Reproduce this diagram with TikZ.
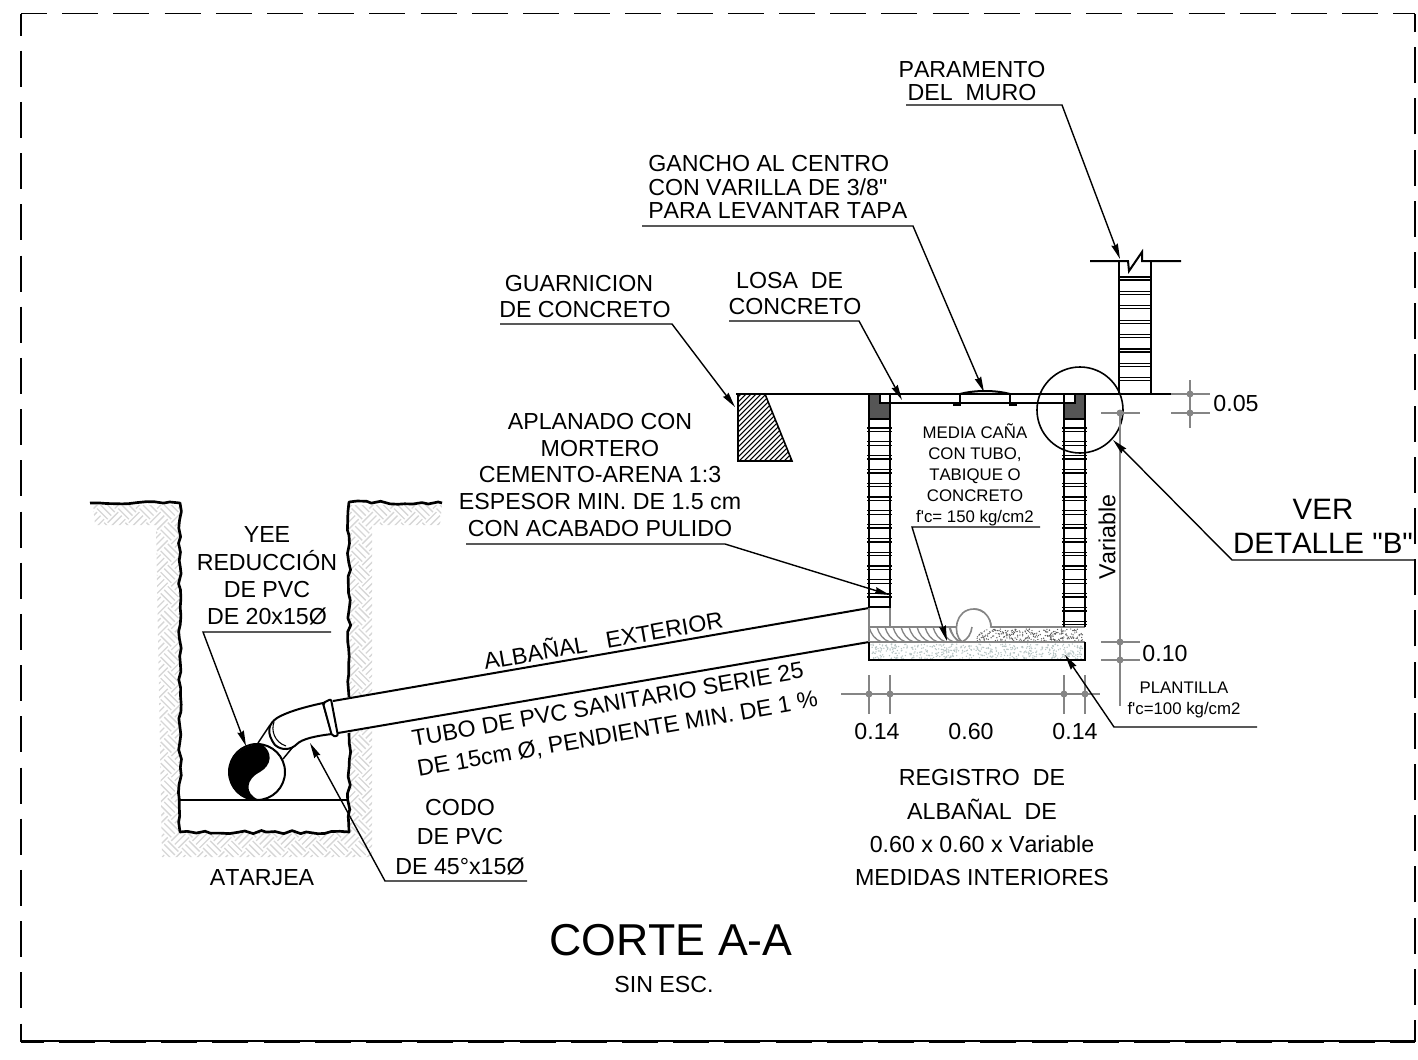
\documentclass[tikz,border=0pt]{standalone}
\usepackage{fontspec}
\setmainfont{Liberation Sans}[Ligatures=TeXOff,Kerning=Off]
\usepackage{tikz}
\usetikzlibrary{arrows.meta,decorations.pathmorphing}

\definecolor{soilgray}{HTML}{D6D6D6}
\definecolor{dimgray}{HTML}{858585}
\definecolor{capgray}{HTML}{555555}
\definecolor{sandgray}{HTML}{B4C2C2}

\tikzset{
  lbl/.style={font=\fontsize{17.4}{20}\selectfont,align=center,inner sep=0pt},
  lblsmall/.style={font=\fontsize{12.6}{15.7}\selectfont,align=center,inner sep=0pt},
  lblbig/.style={font=\fontsize{22.1}{25.5}\selectfont,align=center,inner sep=0pt},
  wall/.style={line width=1.5pt,black},
  leader/.style={line width=1.05pt,-{Stealth[length=11.5pt,width=5pt,inset=1pt]}},
  dim/.style={line width=1.2pt,dimgray},
  frame/.style={line width=1.4pt,dash pattern=on 27pt off 11.4pt},
  jagged/.style={line width=2pt,line join=round,decorate,decoration={random steps,segment length=6pt,amplitude=1.3pt}}
}

\begin{document}
\begin{tikzpicture}[x=.75pt,y=-.75pt]
  \useasboundingbox (0,0) rectangle (1418,1060);
  \pgfmathsetseed{11}

  % Dashed sheet frame
  \coordinate (FA) at (21,13.5);
  \coordinate (FB) at (1415,13.5);
  \coordinate (FC) at (1415,1042);
  \coordinate (FD) at (21,1042);
  \draw[frame,dash phase=10.5pt] (FA) -- (FD);
  \draw[frame,dash phase=7.5pt] (FA) -- (FB);
  \draw[frame,dash phase=10.5pt] (FC) -- (FB);
  \draw[frame,dash phase=8.25pt] (FC) -- (FD);
  \draw[line width=.8pt] (1415,1041) -- (21,1041);

  % Soil hatching round the trench
  \begin{scope}
    \clip (93,505) -- (180,505) -- (180,832) -- (349,832) -- (349,505) -- (442,505) -- (440,525)
      -- (372,525) -- (372,857) -- (162,857) -- (156,525) -- (95,525) -- cycle;
    \begin{scope}[shift={(265,680)},rotate=45]
      \foreach \i in {-21,...,21} {
        \foreach \j in {-21,...,21} {
          \ifodd\numexpr\i+\j+100\relax
            \draw[soilgray,line width=1pt] ({\i*15},{\j*15+2.5}) -- ({\i*15+15},{\j*15+2.5})
              ({\i*15},{\j*15+7.5}) -- ({\i*15+15},{\j*15+7.5}) ({\i*15},{\j*15+12.5}) -- ({\i*15+15},{\j*15+12.5});
          \else
            \draw[soilgray,line width=1pt] ({\i*15+2.5},{\j*15}) -- ({\i*15+2.5},{\j*15+15})
              ({\i*15+7.5},{\j*15}) -- ({\i*15+7.5},{\j*15+15}) ({\i*15+12.5},{\j*15}) -- ({\i*15+12.5},{\j*15+15});
          \fi
        }
      }
    \end{scope}
  \end{scope}

  % Trench
  \draw[jagged] (90,503) -- (180,503) -- (180,832) -- (349,832) -- (349,733);
  \draw[jagged] (349,697) -- (349,502) -- (442,503);
  \draw[line width=1pt] (180,800) -- (349,800);

  % Pipe
  \fill[white] (333,701) -- (869,608) -- (869,642) -- (338,733) -- cycle;
  \draw[wall] (333,701) -- (869,608);
  \draw[wall] (338,733) -- (869,642);

  % Elbow and collar
  \draw[line width=1.1pt] (258,743) -- (270,725);
  \draw[line width=1.1pt] (283,759) -- (297,742);
  \draw[wall,fill=white] (323,703) .. controls (300,708) and (285,713) .. (277,718)
    .. controls (268,724) and (266,733) .. (275,745)
    .. controls (282,751) and (291,750) .. (297,744)
    .. controls (302,739) and (315,736) .. (332,734) -- cycle;
  \draw[line width=.8pt] (274,722) .. controls (271,730) and (274,742) .. (286,746);
  \draw[wall,fill=white,rounded corners=1.5pt] (323,703) -- (331,699) -- (338,736) -- (332,736) -- cycle;

  % Yee seen end on
  \node[circle,minimum size=42pt,inner sep=0pt,fill=white,line width=1.5pt,draw] (yee) at (257,772) {};
  \fill[black] (262,744.5) .. controls (273,752) and (272,765) .. (260,772)
    .. controls (246,779) and (244,793) .. (258,799.5)
    .. controls (236,801) and (228,782) .. (229,772)
    .. controls (229,757) and (243,743) .. (262,744.5) -- cycle;

  % Guarnicion
  \begin{scope}
    \clip (738,394) -- (765,394) -- (792,461) -- (738,461) -- cycle;
    \foreach \d in {0,5,...,145} {
      \draw[line width=.8pt] ({650+\d},470) -- ({650+\d+85},385);
    }
  \end{scope}
  \draw[line width=1.2pt] (765,394) -- (792,461) -- (738,461) -- (738,394);
  \coordinate (GA) at (736,394);
  \coordinate (GB) at (1171,394);
  \draw[wall] (GA) -- (GB);

  % Floor fill and slab
  \foreach \i in {1,...,520} {
    \fill[sandgray] ({871+212*rnd},{644+15*rnd}) circle (.75);
  }
  \foreach \i in {1,...,260} {
    \fill[black!65] ({976+108*rnd},{629+12*rnd}) circle (.7);
  }
  \foreach \x in {869,877,...,950} {
    \draw[dimgray,line width=1pt] (\x,627) .. controls ({\x+2},634) and ({\x+6},640) .. ({\x+13},642);
  }
  \draw[dimgray,line width=1pt] (950,627) .. controls (952,634) and (955,640) .. (960,642);

  % Half round channel
  \draw[dim] (869,627) -- (958,627);
  \draw[dim] (972,627) -- (1085,627);
  \draw[dim] (869,642) -- (1085,642);
  \draw[dim,fill=white] (962,642) .. controls (952,634) and (955,609) .. (974,609)
    .. controls (984,609) and (991,618) .. (991,627);
  \draw[dim] (972,627) .. controls (971,634) and (968,639) .. (962,642);
  \fill[white] (973,613) rectangle (990,626);
  \draw[dim] (974,609) .. controls (984,609) and (991,618) .. (991,627);
  \draw[dim] (869,607) -- (869,642);
  \draw[dim] (890,607) -- (890,627);
  \draw[wall] (869,642) -- (869,660) -- (1085,660) -- (1085,642);

  % Registro walls
  \draw[wall] (869,394) -- (869,607) -- (890,607) -- (890,394);
  \draw[wall] (1064,394) -- (1064,627);
  \draw[wall] (1085,394) -- (1085,627);
  \foreach \k in {0,...,12} {
    \draw[line width=1pt] (867,{428+13.8*\k}) -- (892,{428+13.8*\k});
    \draw[line width=1pt] (867,{431.5+13.8*\k}) -- (892,{431.5+13.8*\k});
  }
  \foreach \k in {0,...,14} {
    \draw[line width=1pt] (1062,{428+13.8*\k}) -- (1087,{428+13.8*\k});
    \draw[line width=1pt] (1062,{431.5+13.8*\k}) -- (1087,{431.5+13.8*\k});
  }
  \filldraw[capgray,draw=black,line width=1.2pt] (869,394) -- (880,394) -- (880,403) -- (890,403) -- (890,419) -- (869,419) -- cycle;
  \filldraw[capgray,draw=black,line width=1.2pt] (1085,394) -- (1075,394) -- (1075,403) -- (1064,403) -- (1064,419) -- (1085,419) -- cycle;

  % Cover
  \draw[line width=1.2pt] (880,394) -- (880,403) -- (1075,403) -- (1075,394);
  \draw[line width=1.2pt] (960,394) -- (960,405) -- (953,405) (1010,394) -- (1010,405) -- (1017,405);
  \draw[wall] (960,394) .. controls (975,390) and (995,390) .. (1010,394);

  % Boundary wall
  \draw[wall] (1119,261) -- (1119,394) (1151,261) -- (1151,394);
  \foreach \k in {0,...,7} {
    \draw[line width=1pt] (1119,{277+14.4*\k}) -- (1151,{277+14.4*\k});
    \draw[line width=1pt] (1119,{280+14.4*\k}) -- (1151,{280+14.4*\k});
  }
  \draw[wall,fill=white] (1090,261) -- (1128,261) -- (1129,271) -- (1142,252) -- (1142,261) -- (1181,261);

  % Detail circle
  \node[circle,draw,line width=1.2pt,minimum size=64.5pt,inner sep=0pt] (detalle) at (1080,410) {};

  % Dimensions
  \draw[dim] (841,694) -- (1100,694);
  \foreach \x in {869,890,1064,1085} {
    \draw[dim] (\x,675) -- (\x,714);
    \fill[dimgray] (\x,694) circle (3.5);
  }
  \draw[dim] (1120,413) -- (1120,706);
  \foreach \y in {413,642,660} {
    \draw[dim] (1101,\y) -- (1140,\y);
    \fill[dimgray] (1120,\y) circle (3.5);
  }
  \draw[dim] (1190,380) -- (1190,428);
  \foreach \y in {394,413} {
    \draw[dim] (1171,\y) -- (1210,\y);
    \fill[dimgray] (1190,\y) circle (3.5);
  }

  % Labels
  \node[lbl,font=\fontsize{17.4}{17.4}\selectfont] (muro) at (972,81) {PARAMENTO\\DEL\ \ MURO};
  \node[lbl,anchor=west,align=left,font=\fontsize{17.4}{17.6}\selectfont] (gancho) at (648,187) {GANCHO AL CENTRO\\CON VARILLA DE 3/8"\\PARA LEVANTAR TAPA};
  \node[lbl,font=\fontsize{17.4}{19.5}\selectfont] (guarnicion) at (585,297) {GUARNICION\hspace*{9pt}\\DE CONCRETO};
  \node[lbl,font=\fontsize{17.4}{19.5}\selectfont] (losa) at (795,294) {LOSA\ \ DE\hspace*{8pt}\\CONCRETO};
  \node[lbl] (aplanado) at (600,475) {APLANADO CON\\MORTERO\\CEMENTO-ARENA 1:3\\ESPESOR MIN. DE 1.5 cm\\CON ACABADO PULIDO};
  \node[lblsmall] (media) at (975,475) {MEDIA CAÑA\\CON TUBO,\\TABIQUE O\\CONCRETO\\f'c= 150 kg/cm2};
  \node[lblbig] (ver) at (1323,526) {VER\\DETALLE "B"};
  \node[lbl,rotate=90] (variable) at (1107,537) {Variable};
  \node[lbl] (dimA) at (1236,404) {0.05};
  \node[lbl] (dimB) at (1165,654) {0.10};
  \node[lblsmall] (plantilla) at (1184,700) {PLANTILLA\\f'c=100 kg/cm2};
  \node[lbl] (dimC) at (877,732) {0.14};
  \node[lbl] (dimD) at (971,732) {0.60};
  \node[lbl] (dimE) at (1075,732) {0.14};
  \node[lbl,font=\fontsize{17.4}{25}\selectfont] (registro) at (982,828) {REGISTRO\ \ DE\\ALBAÑAL\ \ DE\\0.60 x 0.60 x Variable\\MEDIDAS INTERIORES};
  \node[lbl,font=\fontsize{17.4}{20.5}\selectfont] (yeelbl) at (267,576) {YEE\\REDUCCIÓN\\DE PVC\\DE 20x15Ø};
  \node[lbl,font=\fontsize{17.4}{22}\selectfont] (codo) at (460,837) {CODO\\DE PVC\\DE 45°x15Ø};
  \node[lbl] (atarjea) at (262,878) {ATARJEA};
  \node[lbl,rotate=10] (albanal) at (603,639) {ALBAÑAL\ \ \ EXTERIOR};
  \node[lbl,rotate=10,align=left,font=\fontsize{17.4}{23}\selectfont] (tubo) at (615,720) {TUBO DE PVC SANITARIO SERIE 25\\DE 15cm Ø, PENDIENTE MIN. DE 1 \%};
  \node[lbl,font=\fontsize{33.5}{36}\selectfont] (corte) at (671,940) {CORTE A-A};
  \node[lbl] (sinesc) at (664,985) {SIN ESC.};

  % Leaders
  \draw[leader] (906,105) coordinate (muroA) -- (1062,105) coordinate (muroB) -- (1120,259) coordinate (muroC);
  \draw[leader] (642,226) coordinate (ganchoA) -- (913,226) coordinate (ganchoB) -- (984,392) coordinate (ganchoC);
  \draw[leader] (500,324) coordinate (guarA) -- (672,324) coordinate (guarB) -- (735,407) coordinate (guarC);
  \draw[leader] (729,321) coordinate (losaA) -- (859,321) coordinate (losaB) -- (902,400) coordinate (losaC);
  \draw[leader] (466,544) coordinate (aplA) -- (725,544) coordinate (aplB) -- (890,595) coordinate (aplC);
  \draw[leader] (1040,527) coordinate (mediaA) -- (912,527) coordinate (mediaB) -- (947,641) coordinate (mediaC);
  \draw[leader] (1415,560) coordinate (verA) -- (1232,560) coordinate (verB) -- (1113,440) coordinate (verC);
  \draw[leader] (1257,727) coordinate (plaA) -- (1114,727) coordinate (plaB) -- (1065,655) coordinate (plaC);
  \draw[leader] (331,632) coordinate (yeeA) -- (203,632) coordinate (yeeB) -- (246,746) coordinate (yeeC);
  \draw[leader] (527,881) coordinate (codoA) -- (385,881) coordinate (codoB) -- (310,743) coordinate (codoC);
\end{tikzpicture}
\end{document}
